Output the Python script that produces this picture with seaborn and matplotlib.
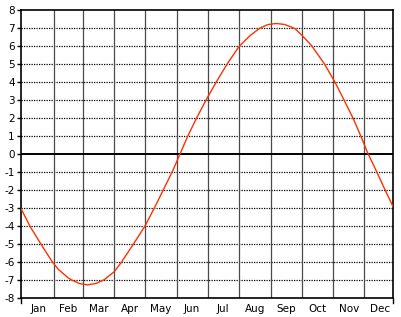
import matplotlib
matplotlib.use("Agg")
import matplotlib.pyplot as plt
import seaborn as sns
import pandas as pd
import numpy as np

# Data (day of year, value)
days = [-1.3, 7.5, 19, 29.3, 35.2, 45, 48.3, 56, 63.7, 72, 80.2, 89.9, 96.5, 107.5,
        120, 129.2, 138, 147, 154.2, 161.3, 169.8, 179.6, 190, 200.4, 211.8, 222.6,
        232.4, 240, 248, 256, 261.7, 266.6, 273.7, 282.9, 295.2, 305.7, 314.5, 323.6,
        330.8, 337.4, 346.4, 354.5, 362.7]
values = [-3.03, -4.02, -5.08, -5.99, -6.41, -6.89, -7.0, -7.2, -7.27, -7.19, -6.98, -6.53,
          -6.04, -5.10, -3.99, -2.98, -1.97, -0.93, 0.01, 0.94, 1.94, 3.0, 4.04, 5.02,
          5.97, 6.58, 7.0, 7.19, 7.25, 7.2, 7.08, 6.96, 6.57, 6.01, 5.01, 3.98, 2.99,
          1.95, 1.0, 0.08, -0.99, -1.99, -2.97]

months = ["Jan", "Feb", "Mar", "Apr", "May", "Jun", "Jul", "Aug", "Sep", "Oct", "Nov", "Dec"]
month_lengths = [31, 28, 31, 30, 31, 30, 31, 31, 30, 31, 30, 31]
y_ticks = list(range(-8, 9))

df = pd.DataFrame({"day": days, "value": values})

W, H = 401, 317
fig = plt.figure(figsize=(W / 100, H / 100), dpi=100)
ax = fig.add_axes([21 / W, 1 - 298 / H, (393 - 21) / W, (298 - 10) / H])

plt.rcParams['font.family'] = ['DejaVu Sans']

starts = np.cumsum([0] + month_lengths)
x0, x1 = -1.3, 362.3
ax.set_xlim(x0, x1)
ax.set_ylim(-8, 8)

# horizontal dotted grid
for y in y_ticks:
    if y in (-8, 8):
        continue
    if y == 0:
        ax.axhline(0, color="black", lw=1.4, zorder=2)
    else:
        ax.axhline(y, color="black", lw=0.9, linestyle=(0, (1, 1)), zorder=1)

# vertical month lines
for s in starts[1:-1]:
    ax.axvline(s, color="#4a4a4a", lw=0.9, zorder=1)

sns.lineplot(data=df, x="day", y="value", ax=ax, color="#ff3000", lw=1.0,
             zorder=3, legend=False)

ax.set_xlabel("")
ax.set_ylabel("")
ax.set_yticks(y_ticks)
ax.set_yticklabels([str(v) for v in y_ticks], fontsize=7.5)
ax.tick_params(axis="y", length=3, width=1, pad=1.5, color="black")

mids = [(starts[i] + starts[i + 1]) / 2 for i in range(12)]
ax.set_xticks(mids)
ax.set_xticklabels(months, fontsize=7.5)
ax.tick_params(axis="x", length=0, pad=4)

# end ticks at bottom
ax.plot([x0, x0], [-8, -8.3], color="black", lw=1, clip_on=False)
ax.plot([x1, x1], [-8, -8.3], color="black", lw=1, clip_on=False)

for sp in ax.spines.values():
    sp.set_color("black")
    sp.set_linewidth(1.2)

fig.savefig("out.png", dpi=100, facecolor="white")
